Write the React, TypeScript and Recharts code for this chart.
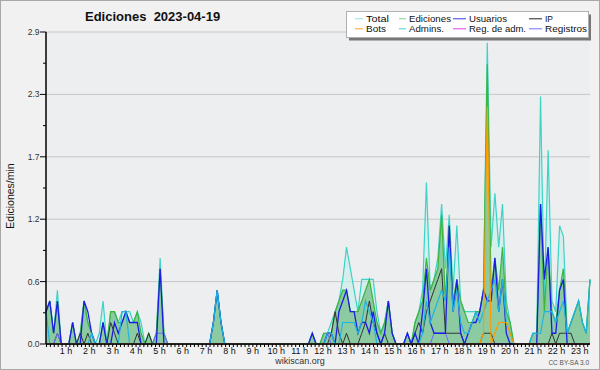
import { ComposedChart, Area, Line, XAxis, YAxis, CartesianGrid } from 'recharts'

document.body.style.margin = '0'

// ediciones por minuto, un punto cada ~10 min
const total = [
  0.3, 0.4, 0.1, 0.5, 0, 0, 0, 0.2, 0, 0.1, 0.4, 0.2,
  0.1, 0, 0.1, 0.4, 0, 0.3, 0.3, 0.2, 0.3, 0.3, 0.3, 0.2,
  0.3, 0.2, 0, 0.1, 0, 0.1, 0.8, 0.1, 0, 0, 0, 0,
  0, 0, 0, 0, 0, 0, 0, 0, 0.2, 0.5, 0.2, 0,
  0, 0, 0, 0, 0, 0, 0, 0, 0, 0, 0, 0,
  0, 0, 0, 0, 0, 0, 0, 0, 0, 0, 0.1, 0,
  0, 0.1, 0.1, 0.2, 0.3, 0.4, 0.6, 0.9, 0.7, 0.5, 0.3, 0.6,
  0.6, 0.6, 0.6, 0.3, 0.1, 0.2, 0.4, 0.1, 0, 0, 0, 0.1,
  0, 0.2, 0.3, 0.5, 1.5, 0.5, 0.6, 0.8, 1.3, 0.7, 1.2, 0.5,
  1.1, 0.4, 0.3, 0.3, 0.3, 0.3, 0.3, 0.5, 2.8, 0.9, 1.4, 0.9,
  1.3, 0.4, 0.2, 0, 0, 0, 0, 0, 0.1, 0.1, 2.3, 0.4,
  1.8, 0.4, 0.3, 1.1, 1.0, 0.1, 0.2, 0.3, 0.4, 0.2, 0.1, 0.6,
]
const ediciones = [
  0.3, 0.4, 0.1, 0.4, 0, 0, 0, 0.2, 0, 0.1, 0.4, 0.2,
  0.1, 0, 0, 0.2, 0, 0.3, 0.3, 0.2, 0.2, 0.3, 0.2, 0.2,
  0.3, 0.1, 0, 0.1, 0, 0.1, 0.7, 0.1, 0, 0, 0, 0,
  0, 0, 0, 0, 0, 0, 0, 0, 0.2, 0.5, 0.2, 0,
  0, 0, 0, 0, 0, 0, 0, 0, 0, 0, 0, 0,
  0, 0, 0, 0, 0, 0, 0, 0, 0, 0, 0.1, 0,
  0, 0.1, 0.1, 0.1, 0.3, 0.4, 0.5, 0.5, 0.3, 0.3, 0.3, 0.4,
  0.5, 0.6, 0.4, 0.2, 0.1, 0.2, 0.4, 0.1, 0, 0, 0, 0.1,
  0, 0.2, 0.3, 0.4, 0.8, 0.5, 0.6, 0.7, 1.2, 0.4, 1.1, 0.4,
  0.6, 0.4, 0.3, 0.2, 0.2, 0.3, 0.3, 0.5, 2.6, 0.5, 0.8, 0.5,
  0.9, 0.3, 0.2, 0, 0, 0, 0, 0, 0.1, 0.1, 1.3, 0.3,
  0.9, 0.3, 0.2, 0.5, 0.7, 0.1, 0.2, 0.3, 0.4, 0.2, 0.1, 0.6,
]
const usuarios = [
  0.3, 0.4, 0.1, 0.4, 0, 0, 0, 0.2, 0, 0, 0.4, 0.3,
  0.1, 0, 0, 0.2, 0, 0, 0.2, 0.1, 0.2, 0.3, 0.2, 0.2,
  0.2, 0, 0, 0, 0, 0, 0.7, 0, 0, 0, 0, 0,
  0, 0, 0, 0, 0, 0, 0, 0, 0.2, 0.5, 0.2, 0,
  0, 0, 0, 0, 0, 0, 0, 0, 0, 0, 0, 0,
  0, 0, 0, 0, 0, 0, 0, 0, 0, 0, 0.1, 0,
  0, 0, 0.1, 0.1, 0, 0.3, 0.4, 0.5, 0.3, 0.3, 0.1, 0.2,
  0.2, 0.1, 0.3, 0.1, 0, 0.1, 0.4, 0.1, 0, 0, 0, 0.1,
  0, 0.1, 0, 0.3, 0.7, 0.2, 0.1, 0.1, 0.1, 0.1, 1.1, 0.3,
  0.6, 0.1, 0, 0.1, 0.2, 0.2, 0.3, 0.5, 0.4, 0.4, 0.8, 0.3,
  0.6, 0.1, 0, 0, 0, 0, 0, 0, 0, 0, 1.3, 0.6,
  0.9, 0.1, 0.1, 0.5, 0.6, 0, 0, 0, 0, 0, 0, 0,
]
const ip = [
  0, 0, 0, 0.1, 0, 0, 0, 0, 0, 0.1, 0, 0.1,
  0, 0, 0, 0, 0, 0.2, 0.1, 0, 0, 0, 0, 0,
  0.1, 0, 0, 0.1, 0, 0, 0, 0, 0, 0, 0, 0,
  0, 0, 0, 0, 0, 0, 0, 0, 0, 0, 0, 0,
  0, 0, 0, 0, 0, 0, 0, 0, 0, 0, 0, 0,
  0, 0, 0, 0, 0, 0, 0, 0, 0, 0, 0, 0,
  0, 0, 0, 0.1, 0.3, 0.1, 0, 0.1, 0, 0, 0, 0.1,
  0.2, 0.4, 0.2, 0.1, 0, 0.1, 0, 0, 0, 0, 0, 0,
  0, 0.1, 0.2, 0.1, 0.3, 0.4, 0.5, 0.6, 0.7, 0.1, 0.1, 0.1,
  0.1, 0.1, 0, 0, 0, 0, 0, 0.1, 0.1, 0.1, 0, 0,
  0, 0, 0, 0, 0, 0, 0, 0, 0, 0, 0, 0,
  0, 0.1, 0, 0.1, 0.1, 0.1, 0.1, 0, 0, 0, 0, 0,
]
const bots = [
  0, 0, 0, 0, 0, 0, 0, 0, 0, 0, 0, 0,
  0, 0, 0, 0, 0, 0, 0, 0, 0, 0, 0, 0,
  0, 0, 0, 0, 0, 0, 0, 0, 0, 0, 0, 0,
  0, 0, 0, 0, 0, 0, 0, 0, 0, 0, 0, 0,
  0, 0, 0, 0, 0, 0, 0, 0, 0, 0, 0, 0,
  0, 0, 0, 0, 0, 0, 0, 0, 0, 0, 0, 0,
  0, 0, 0, 0, 0, 0, 0, 0, 0, 0, 0, 0,
  0, 0, 0, 0, 0, 0, 0, 0, 0, 0, 0, 0,
  0, 0, 0, 0, 0, 0, 0, 0, 0, 0, 0, 0,
  0, 0, 0, 0, 0, 0, 0, 0.1, 2.2, 0, 0.1, 0.2,
  0.2, 0.2, 0.1, 0, 0, 0, 0, 0, 0, 0, 0, 0,
  0, 0, 0, 0, 0, 0, 0, 0, 0, 0, 0, 0,
]
const admins = [
  0.3, 0, 0, 0, 0, 0, 0, 0, 0, 0, 0, 0,
  0.1, 0, 0, 0, 0, 0, 0, 0, 0.3, 0.3, 0, 0,
  0, 0, 0, 0, 0, 0, 0, 0, 0, 0, 0, 0,
  0, 0, 0, 0, 0, 0, 0, 0, 0.2, 0.5, 0.2, 0,
  0, 0, 0, 0, 0, 0, 0, 0, 0, 0, 0, 0,
  0, 0, 0, 0, 0, 0, 0, 0, 0, 0, 0, 0,
  0, 0, 0.1, 0.1, 0, 0, 0.2, 0.2, 0.2, 0.2, 0.1, 0.2,
  0.4, 0.3, 0.2, 0, 0, 0, 0, 0, 0, 0, 0, 0,
  0, 0, 0, 0.1, 0.4, 0.2, 0.3, 0.4, 0.5, 0.4, 0.9, 0.3,
  0.5, 0.2, 0.1, 0.1, 0.2, 0.3, 0.2, 0.3, 0.4, 0.5, 0.6, 0.3,
  0.6, 0.2, 0.1, 0, 0, 0, 0, 0, 0.1, 0.1, 0.1, 0.3,
  0.3, 0.3, 0.2, 0.3, 0.4, 0.1, 0.2, 0.3, 0.4, 0.2, 0.1, 0.6,
]
const regAdm = [
  0, 0, 0, 0, 0, 0, 0, 0, 0, 0, 0, 0,
  0, 0, 0, 0, 0, 0, 0, 0, 0, 0, 0, 0,
  0, 0, 0, 0, 0, 0, 0, 0, 0, 0, 0, 0,
  0, 0, 0, 0, 0, 0, 0, 0, 0, 0, 0, 0,
  0, 0, 0, 0, 0, 0, 0, 0, 0, 0, 0, 0,
  0, 0, 0, 0, 0, 0, 0, 0, 0, 0, 0, 0,
  0, 0, 0, 0, 0, 0, 0, 0, 0, 0, 0, 0,
  0, 0, 0, 0, 0, 0, 0, 0, 0, 0, 0, 0,
  0, 0, 0, 0, 0, 0, 0, 0, 0, 0, 0, 0,
  0, 0, 0, 0, 0, 0, 0, 0, 0, 0, 0, 0,
  0, 0, 0, 0, 0, 0, 0, 0, 0, 0, 0, 0,
  0, 0, 0, 0, 0, 0, 0, 0, 0, 0, 0, 0,
]
const registros = [
  0, 0, 0, 0.1, 0, 0, 0, 0, 0, 0, 0, 0,
  0, 0, 0, 0, 0, 0, 0, 0, 0, 0, 0, 0,
  0, 0, 0, 0, 0, 0.1, 0.1, 0.1, 0, 0, 0, 0,
  0, 0, 0, 0, 0, 0, 0, 0, 0, 0, 0, 0,
  0, 0, 0, 0, 0, 0, 0, 0, 0, 0, 0, 0,
  0, 0, 0, 0, 0, 0, 0, 0, 0, 0, 0, 0,
  0, 0, 0.1, 0, 0, 0, 0, 0, 0, 0, 0, 0,
  0, 0, 0, 0, 0, 0, 0, 0, 0, 0, 0, 0.1,
  0, 0, 0, 0, 0, 0, 0.1, 0.1, 0.1, 0.1, 0, 0,
  0, 0, 0, 0, 0, 0, 0, 0, 0, 0, 0, 0,
  0, 0, 0, 0, 0, 0, 0, 0, 0, 0, 0, 0,
  0, 0, 0, 0, 0, 0, 0, 0, 0, 0, 0, 0,
]

// eje de tiempo en horas
const T0 = 0.1455
const T1 = 23.433
const horas = total.map((_, j) => T0 + (j * (T1 - T0)) / (total.length - 1))
const xTicks = Array.from({ length: 140 }, (_, k) => (k + 1) / 6)

const yMajor = [0, 0.58, 1.16, 1.74, 2.32, 2.9]
const yMinor = [0.29, 0.87, 1.45, 2.03, 2.61]

const data = horas.map((t, j) => ({
  t,
  total: total[j],
  ediciones: ediciones[j],
  usuarios: usuarios[j],
  ip: ip[j],
  bots: bots[j],
  admins: admins[j],
  regAdm: regAdm[j],
  registros: registros[j],
}))

const C = {
  total: '#3dd3c6',
  ediciones: '#3db53d',
  usuarios: '#1c1ce8',
  ip: '#333333',
  bots: '#ff9a00',
  admins: '#1fb4e0',
  regAdm: '#e030e0',
  registros: '#6a6aff',
}

const leyenda = [
  { name: 'Total', color: '#8fe6e0' },
  { name: 'Ediciones', color: '#7fd27f' },
  { name: 'Usuarios', color: '#3a3af0' },
  { name: 'IP', color: '#222' },
  { name: 'Bots', color: '#ffa42a' },
  { name: 'Admins.', color: '#3ccfe0' },
  { name: 'Reg. de adm.', color: '#e040f0' },
  { name: 'Registros', color: '#7474ff' },
]
// posiciones de la leyenda (px)
const colLine = [355, 399, 453, 529]
const colText = [366, 409, 469, 545]
const textW = [23, 42, 38, 8, 20, 35, 57, 42]
const rowY = [18.8, 28.8]

const font = '"Liberation Sans", Arial, sans-serif'

function XTick({ x, y, payload }: any) {
  const n = Math.round(payload.value * 6)
  if (n % 6 !== 0) return <g />
  return (
    <text x={x} y={y + 6.5} textAnchor="middle" fontSize={9} fontFamily={font} fill="#111">
      {`${n / 6} h`}
    </text>
  )
}

function YTick({ x, y, payload }: any) {
  const v = payload.value
  const major = yMajor.some(m => Math.abs(m - v) < 1e-6)
  return (
    <g>
      <line x1={x - (major ? 6 : 3)} x2={x} y1={y} y2={y} stroke="#000" />
      {major && (
        <text x={x - 6.5} y={y} dy="0.35em" textAnchor="end" fontSize={8.5} fontFamily={font} fill="#333">
          {v.toFixed(1)}
        </text>
      )}
    </g>
  )
}

export default function App() {
  return (
    <div style={{ position: 'relative', width: 600, height: 370, background: '#f1f1f1' }}>
      <ComposedChart width={600} height={370} data={data} margin={{ top: 32, right: 10, bottom: 0, left: 0 }}>
        <CartesianGrid horizontalValues={yMajor} vertical={false} stroke="#c6c6c6" fill="#eceef0" />
        <XAxis
          dataKey="t"
          type="number"
          domain={[T0, T1]}
          ticks={xTicks}
          interval={0}
          height={26}
          tickSize={3}
          tickMargin={0}
          tick={<XTick />}
          tickLine={{ stroke: '#000' }}
          axisLine={{ stroke: '#000', strokeWidth: 1.5 }}
        />
        <YAxis
          type="number"
          domain={[0, 2.9]}
          ticks={[...yMajor, ...yMinor].sort((a, b) => a - b)}
          interval={0}
          width={46}
          tickSize={0}
          tickMargin={0}
          tickLine={false}
          tick={<YTick />}
          axisLine={{ stroke: '#000', strokeWidth: 1.5 }}
        />
        <Area type="linear" dataKey="total" stroke={C.total} strokeWidth={1.2} fill="#c4f0ea" fillOpacity={0.6} dot={false} activeDot={false} isAnimationActive={false} />
        <Area type="linear" dataKey="ediciones" stroke={C.ediciones} strokeWidth={1.2} fill="#44a858" fillOpacity={0.5} dot={false} activeDot={false} isAnimationActive={false} />
        <Line type="linear" dataKey="ip" stroke={C.ip} strokeWidth={1} dot={false} activeDot={false} isAnimationActive={false} />
        <Line type="linear" dataKey="regAdm" stroke={C.regAdm} strokeWidth={1} dot={false} activeDot={false} isAnimationActive={false} />
        <Line type="linear" dataKey="registros" stroke={C.registros} strokeWidth={1} dot={false} activeDot={false} isAnimationActive={false} />
        <Line type="linear" dataKey="usuarios" stroke={C.usuarios} strokeWidth={1.3} dot={false} activeDot={false} isAnimationActive={false} />
        <Line type="linear" dataKey="admins" stroke={C.admins} strokeWidth={1.2} dot={false} activeDot={false} isAnimationActive={false} />
        <Line type="linear" dataKey="bots" stroke={C.bots} strokeWidth={1.2} dot={false} activeDot={false} isAnimationActive={false} />
      </ComposedChart>
      <svg width={600} height={370} style={{ position: 'absolute', left: 0, top: 0, pointerEvents: 'none' }}>
        <rect x={0.5} y={0.5} width={599} height={369} fill="none" stroke="#a8a8a8" />
        <text x={85} y={21} fontSize={13} fontWeight="bold" fontFamily={font} fill="#111" style={{ whiteSpace: 'pre' }}>
          {'Ediciones  2023-04-19'}
        </text>
        <text
          x={13.5}
          y={196}
          transform="rotate(-90, 13.5, 196)"
          textAnchor="middle"
          fontSize={10.5}
          fontFamily={font}
          fill="#111"
        >
          Ediciones/min
        </text>
        <rect x={349} y={14.5} width={242} height={26} fill="#777" />
        <rect x={346.5} y={11.5} width={242} height={26} fill="#fff" stroke="#b0b0b0" />
        {leyenda.map((s, k) => {
          const col = k % 4
          const ly = rowY[Math.floor(k / 4)]
          return (
            <g key={s.name}>
              <line x1={colLine[col]} x2={colText[col] - 3} y1={ly} y2={ly} stroke={s.color} strokeWidth={1} />
              <text
                x={colText[col]}
                y={ly + 3.5}
                fontSize={9.5}
                fontFamily={font}
                fill="#111"
                textLength={textW[k]}
                lengthAdjust="spacingAndGlyphs"
              >
                {s.name}
              </text>
            </g>
          )
        })}
        <text x={300} y={364} textAnchor="middle" fontSize={9} fontFamily={font} fill="#333">
          wikiscan.org
        </text>
        <text x={589} y={364.5} textAnchor="end" fontSize={6.5} fontFamily={font} fill="#555">
          CC BY-SA 3.0
        </text>
      </svg>
    </div>
  )
}
